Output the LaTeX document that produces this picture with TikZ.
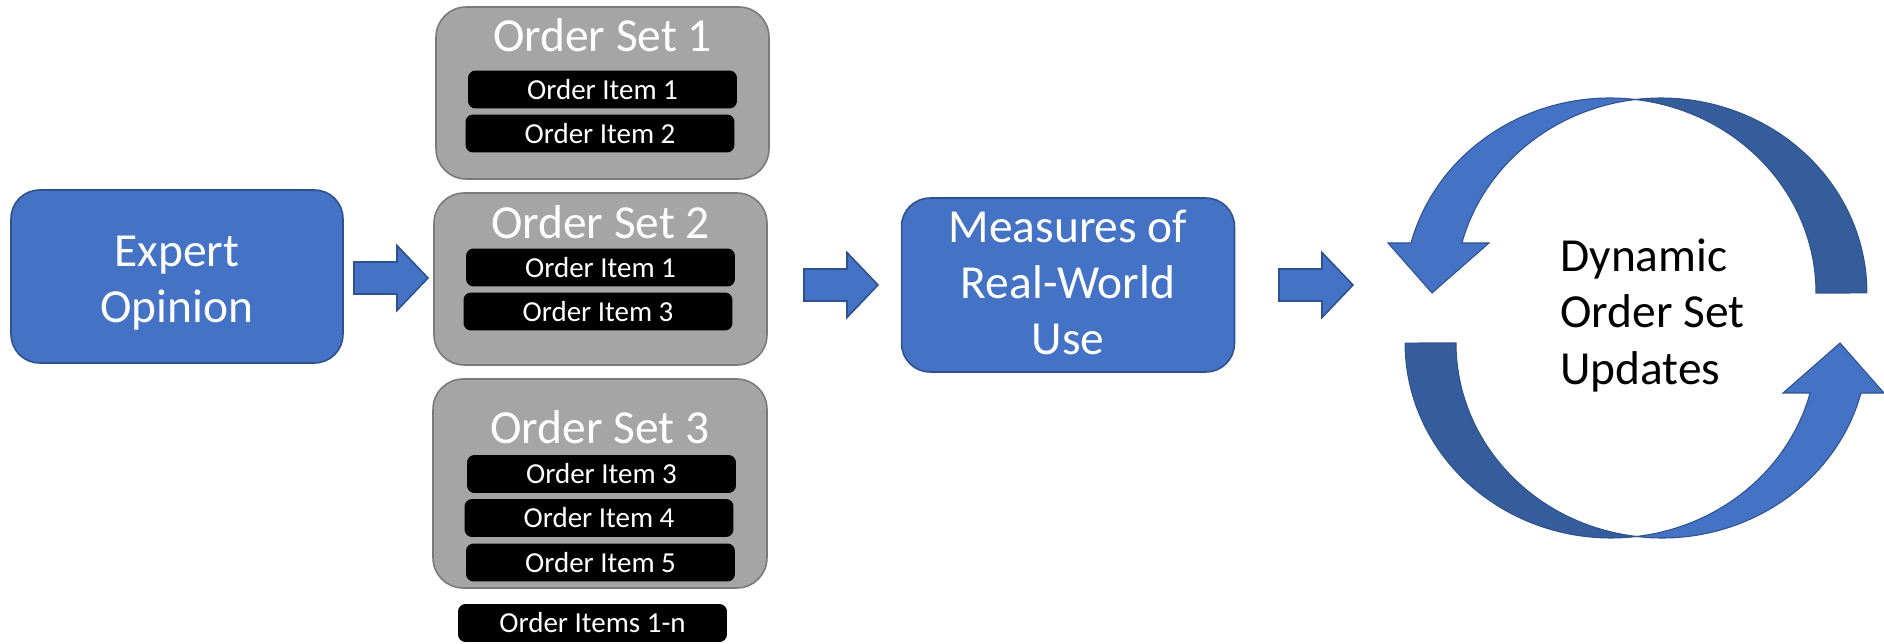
\documentclass[tikz,border=0pt]{standalone}
\usepackage{fontspec}
\setmainfont{Carlito}
\usetikzlibrary{calc}
\definecolor{accblue}{HTML}{4472C4}
\definecolor{accblueline}{HTML}{2F528F}
\definecolor{accbluedark}{RGB}{54,93,155}
\definecolor{boxgray}{HTML}{A5A5A5}
\definecolor{boxgrayline}{HTML}{7A7A7A}

\begin{document}
\begin{tikzpicture}[x=0.02cm,y=0.02cm,
  bigfont/.style={font=\fontsize{27}{32}\selectfont},
  bluebox/.style={draw=accblueline, fill=accblue, line width=0.9pt,
    rounded corners=0.57cm, inner sep=0pt},
  setbox/.style={draw=boxgrayline, fill=boxgray, line width=0.9pt,
    rounded corners=0.6cm, inner sep=0pt, minimum width=6.66cm},
  whitetext/.style={bigfont, text=white, align=center, inner sep=0pt},
  settitle/.style={bigfont, text=white, inner sep=0pt, anchor=base},
  itembox/.style={fill=black, rounded corners=0.15cm, text=white,
    font=\fontsize{16.5}{19}\selectfont, minimum width=5.38cm,
    minimum height=0.76cm, inner sep=0pt},
  blockarrow/.style={draw=accblueline, fill=accblue, line width=0.9pt},
  ringfront/.style={draw=accblueline, fill=accblue, line width=0.6pt},
  ringback/.style={draw=accblueline, fill=accbluedark, line width=0.6pt},
]
\useasboundingbox (0,0) rectangle (1884,643);

% ---- Expert opinion
\node[bluebox, minimum width=6.64cm, minimum height=3.46cm] (expert) at (177,366.5) {};
\node[whitetext] (experttxt) at (177,360) {Expert\\Opinion};

% ---- Order sets
\node[setbox, minimum height=3.44cm] (os1) at (602.5,550) {};
\node[settitle] (os1t) at (602.5,591) {Order Set 1};
\node[itembox] (os1a) at (602.5,553.5) {Order Item 1};
\node[itembox] (os1b) at (600,509.5) {Order Item 2};

\node[setbox, minimum height=3.44cm] (os2) at (600.5,364) {};
\node[settitle] (os2t) at (600.5,404) {Order Set 2};
\node[itembox] (os2a) at (600.5,375.5) {Order Item 1};
\node[itembox] (os2b) at (598,331.5) {Order Item 3};

\node[setbox, minimum height=4.18cm, minimum width=6.68cm] (os3) at (600,159.5) {};
\node[settitle] (os3t) at (600,199) {Order Set 3};
\node[itembox] (os3a) at (601.5,169) {Order Item 3};
\node[itembox] (os3b) at (599,125) {Order Item 4};
\node[itembox] (os3c) at (600.5,80.5) {Order Item 5};

\node[itembox] (itemsn) at (592.5,20) {Order Items 1-n};

% ---- Measures of real-world use
\node[bluebox, minimum width=6.66cm, minimum height=3.48cm] (measures) at (1068,358) {};
\node[whitetext] (measurestxt) at (1068,360.5) {Measures of\\Real-World\\Use};

% ---- Block arrows between the stages
\coordinate (ba1) at (354,365);
\coordinate (ba2) at (804,358);
\coordinate (ba3) at (1279,358);
\foreach \c in {ba1,ba2,ba3}{
  \draw[blockarrow] (\c) ++(0,16) -- ++(43,0) -- ++(0,16.5) -- ++(31,-32.5)
    -- ++(-31,-32.5) -- ++(0,16.5) -- ++(-43,0) -- cycle;
}

% ---- Update cycle: two curved ribbon arrows, point-symmetric
\coordinate (ringc) at (1636,325);
\foreach \turn in {0,180}{
  \begin{scope}[rotate around={\turn:(ringc)}]
    % underside of the ribbon
    \draw[ringback] (1635.5,543.5)
      arc[start angle=97.1, end angle=0, x radius=4.12cm, y radius=3.9cm]
      -- (1816,350)
      arc[start angle=0, end angle=82.9, x radius=4.12cm, y radius=3.9cm]
      -- cycle;
    % front of the ribbon with its head
    \draw[ringfront] (1635.5,543.5)
      arc[start angle=82.9, end angle=165.14, x radius=4.12cm, y radius=3.9cm]
      -- (1388,400) -- (1432,350) -- (1489,400) -- (1461.9,400)
      arc[start angle=165.14, end angle=97.1, x radius=4.12cm, y radius=3.9cm]
      -- cycle;
  \end{scope}
}
\node[bigfont, anchor=west, align=left, inner sep=0pt] (dyn) at (1560,327.5)
  {Dynamic\\Order Set\\Updates};
\end{tikzpicture}
\end{document}
